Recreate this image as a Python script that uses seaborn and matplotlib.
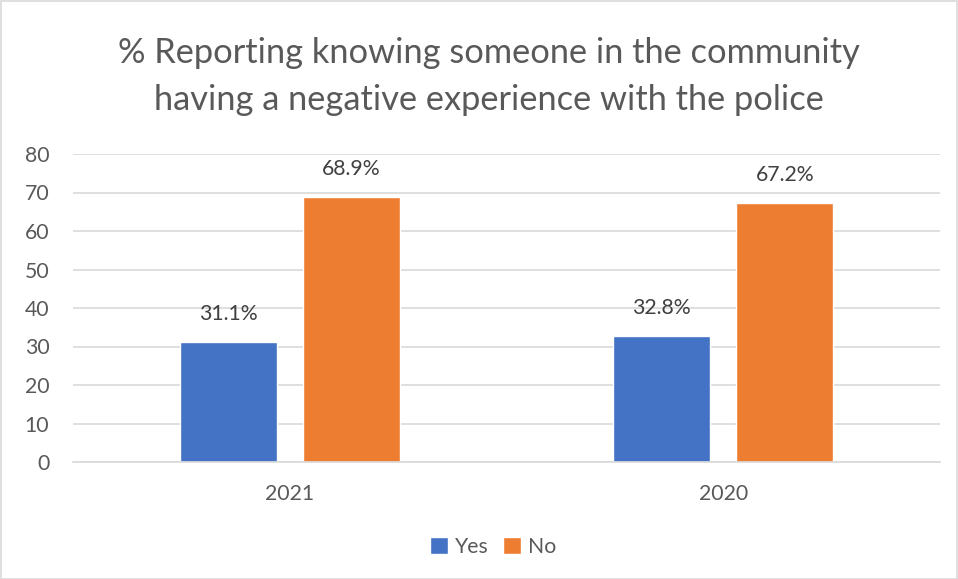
import matplotlib
matplotlib.use("Agg")
import matplotlib.pyplot as plt
import seaborn as sns
import pandas as pd
from matplotlib.patches import Rectangle

years = ["2021", "2020"]
yes_vals = [31.1, 32.8]
no_vals = [68.9, 67.2]
series = ["Yes", "No"]
yticks = [0, 10, 20, 30, 40, 50, 60, 70, 80]
title_lines = ["% Reporting knowing someone in the community",
               "having a negative experience with the police"]

df = pd.DataFrame({
    "Year": years * 2,
    "Response": ["Yes"] * len(years) + ["No"] * len(years),
    "Value": yes_vals + no_vals,
})

sns.set_theme(style="white")
FONT = ["Lato", "DejaVu Sans"]
plt.rcParams["font.family"] = FONT
text_color = "#595959"

W, H = 958, 579
fig = plt.figure(figsize=(W / 100, H / 100), dpi=100)
renderer = fig.canvas.get_renderer()


def fit_size(s, target_px, base=12):
    t = fig.text(0, 0, s, fontsize=base)
    w = t.get_window_extent(renderer).width
    t.remove()
    return base * target_px / w


fs = fit_size("68.9%", 59)
title_fs = fit_size(title_lines[0], 742, 20)

x0, x1, ytop, ybot = 73, 940, 154, 462
ax = fig.add_axes([x0 / W, 1 - ybot / H, (x1 - x0) / W, (ybot - ytop) / H])

sns.barplot(data=df, x="Year", y="Value", hue="Response", order=years,
            hue_order=series, palette=["#4472C4", "#ED7D31"],
            width=0.567, gap=0.211, ax=ax, legend=True, saturation=1)

ax.set_ylim(0, 80)
ax.set_yticks(yticks)
ax.set_xlim(-0.5, 1.5)
ax.yaxis.grid(True, color="#D9D9D9", linewidth=1.2)
ax.set_axisbelow(True)
for s in ["top", "right", "left"]:
    ax.spines[s].set_visible(False)
ax.spines["bottom"].set_color("#D9D9D9")
ax.spines["bottom"].set_linewidth(1.2)
ax.tick_params(axis="both", length=0, labelsize=fs, colors=text_color)
ax.tick_params(axis="y", pad=17)
ax.tick_params(axis="x", pad=16)
ax.set_xlabel("")
ax.set_ylabel("")

for cont in ax.containers:
    ax.bar_label(cont, labels=[f"{v:.1f}%" for v in cont.datavalues],
                 padding=13, fontsize=fs, color="#404040")

leg = ax.legend(loc="center", bbox_to_anchor=(493 / W, 1 - 547 / H),
                bbox_transform=fig.transFigure, ncol=2,
                frameon=False, fontsize=fs, handlelength=0.85, handleheight=0.85,
                handletextpad=0.3, columnspacing=0.7, borderpad=0)
for t in leg.get_texts():
    t.set_color(text_color)

fig.text(489 / W, 1 - 63 / H, title_lines[0], ha="center", va="baseline",
         fontsize=title_fs, color=text_color)
fig.text(489 / W, 1 - 110 / H, title_lines[1], ha="center", va="baseline",
         fontsize=title_fs, color=text_color)

fig.patches.append(Rectangle((0.5 / W, 0.5 / H), 1 - 1.5 / W, 1 - 1.5 / H,
                             transform=fig.transFigure,
                             fill=False, edgecolor="#D9D9D9", linewidth=1.2))

fig.savefig("out.png", dpi=100)
